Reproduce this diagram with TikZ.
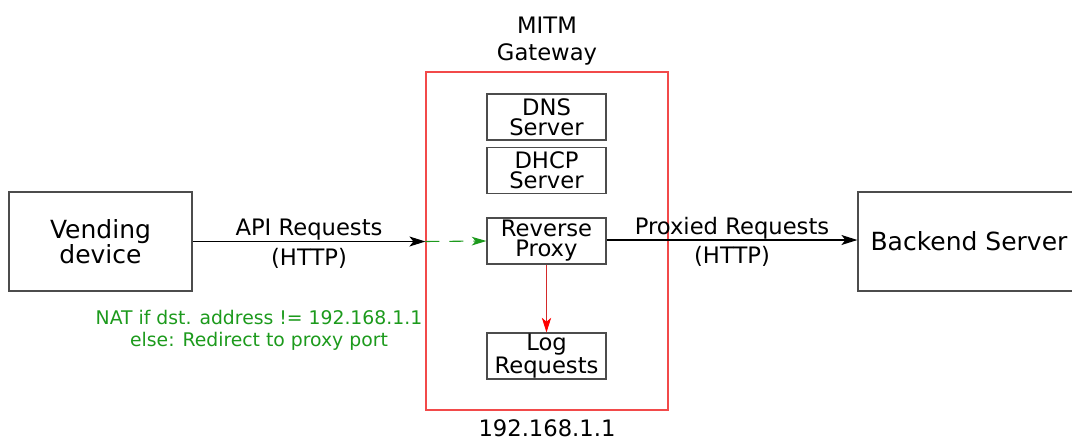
\documentclass[tikz,border=0pt]{standalone}
\usepackage{fontspec}
\setmainfont{DejaVu Sans}
\usetikzlibrary{arrows.meta,positioning}
\definecolor{gwred}{HTML}{F24A4A}
\definecolor{logred}{HTML}{D42A2A}
\definecolor{natgreen}{HTML}{1C9A1C}
\tikzset{
  every node/.style={
    font=\fontsize{17}{15}\selectfont
  },
  endpoint/.style={
    shape=rectangle,
    draw=black!70,
    line width=0.9pt,
    minimum height=74.25pt,
    inner sep=0pt,
    align=center,
    font=\fontsize{18.75}{16.5}\selectfont
  },
  service/.style={
    shape=rectangle,
    draw=black!70,
    line width=0.9pt,
    minimum width=89.25pt,
    minimum height=34.5pt,
    inner sep=0pt,
    align=center
  },
  gateway/.style={
    shape=rectangle,
    draw=gwred,
    line width=0.9pt,
    minimum width=181.5pt,
    minimum height=253.5pt,
    inner sep=0pt
  },
  request/.style={
    line width=0.8pt,
    -{Stealth[length=12pt,width=7.5pt,inset=3pt]}
  },
  redirect/.style={
    natgreen,
    line width=0.8pt,
    dash pattern=on 10.5pt off 7.5pt,
    -{Stealth[length=11pt,width=6.5pt,inset=3pt]}
  },
  logging/.style={
    logred,
    line width=0.75pt,
    -{Stealth[length=11pt,width=7pt,inset=3pt,red]}
  }
}
\begin{document}
\begin{tikzpicture}[x=0.75pt,y=-0.75pt]
  \useasboundingbox (0,0) rectangle (1072,440);
  % gateway and its services
  \node [gateway] (gw) at (547,241) {};
  \node [align=center,font=\fontsize{17}{20}\selectfont] (gwtitle) at (547,41) {MITM\\Gateway};
  \node (gwaddr) at (547,428) {192.168.1.1};
  \node [service] (dns) at (546.5,117) {DNS\\Server};
  \node [service] (dhcp) at (546.5,170.5) {DHCP\\Server};
  \node [service] (proxy) at (546.5,241) {Reverse\\Proxy};
  \node [service] (log) at (546.5,356) {Log\\Requests};
  % outside hosts
  \node [endpoint,minimum width=137.25pt] (vending) at (100.5,241.5) {Vending\\device};
  \node [endpoint,minimum width=166.5pt] (backend) at (969,241.5) {Backend Server};
  % flows
  \draw [request] (vending.east) -- (vending.east -| gw.west)
    node [midway,above=-3pt] {API Requests}
    node [midway,below=1.5pt] {(HTTP)};
  \draw [redirect] (vending.east -| gw.west) -- (proxy.west);
  \draw [request] (proxy.east) ++(0,-1) coordinate (pxout) -- (pxout -| backend.west)
    node [midway,above=-3pt] {Proxied Requests}
    node [midway,below=1pt] {(HTTP)};
  \draw [logging] (proxy) -- (log);
  \node [natgreen,align=center,font=\fontsize{14.1}{16.5}\selectfont] (nat) at (259,330)
    {NAT if dst. address != 192.168.1.1\\else: Redirect to proxy port};
\end{tikzpicture}
\end{document}
